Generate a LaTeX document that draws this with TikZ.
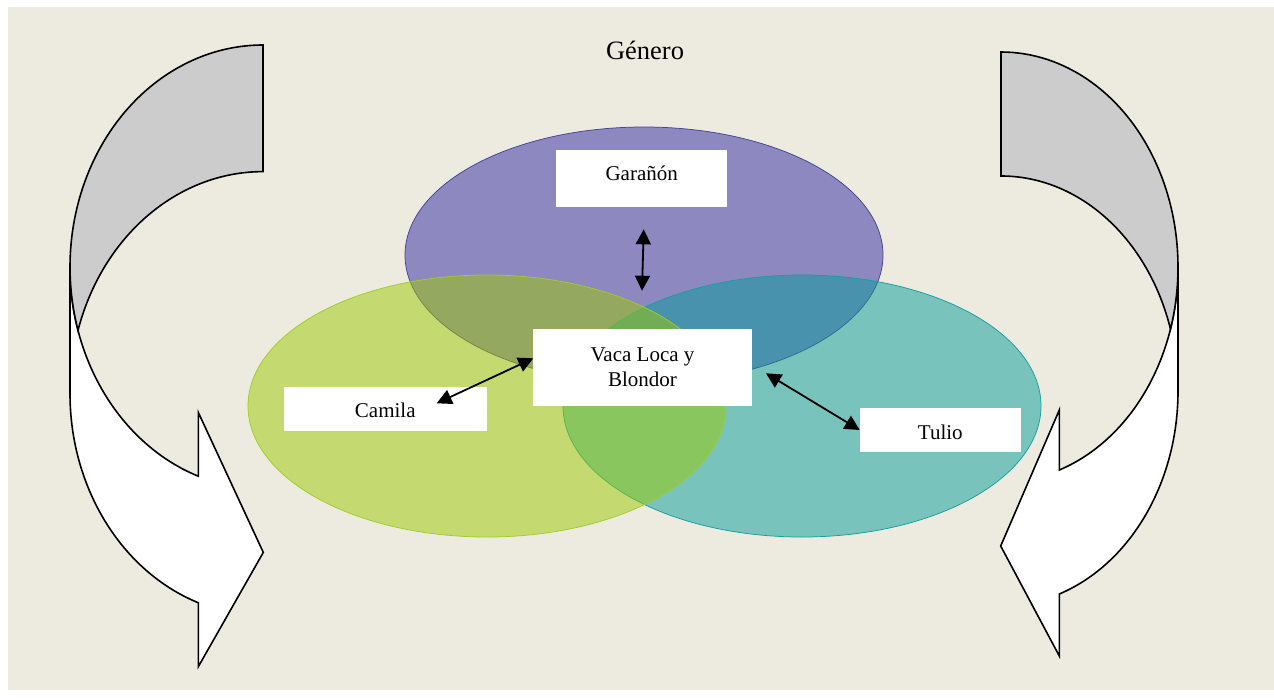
\documentclass[tikz,border=0pt]{standalone}
\usepackage{fontspec}
\setmainfont{Liberation Serif}
\usetikzlibrary{arrows.meta}

\definecolor{paper}{RGB}{237,235,224}
\definecolor{genpurple}{RGB}{46,39,160}
\definecolor{genteal}{RGB}{6,157,156}
\definecolor{gengreen}{RGB}{156,201,0}
\definecolor{edgepurple}{RGB}{70,66,150}
\definecolor{edgeteal}{RGB}{20,160,158}
\definecolor{edgegreen}{RGB}{160,205,40}
\definecolor{backgray}{RGB}{204,204,204}

\tikzset{
    area/.style={fill opacity=0.5, line width=0.75pt},
    band/.style={draw=black, line width=1.6pt, line join=miter},
    labelbox/.style={fill=white, inner sep=0pt, font=\fontsize{21}{25.4}\selectfont},
    bothways/.style={{Triangle[length=15pt,width=15pt]}-{Triangle[length=15pt,width=15pt]}, line width=1.8pt}
}

\begin{document}
\begin{tikzpicture}[x=1pt, y=1pt, yscale=-1]
            \useasboundingbox (0,0) rectangle (1274,697);
            \fill[white] (0,0) rectangle (1274,697);
            \fill[paper] (8,7) rectangle (1274,690);

            \draw[area, fill=genpurple, draw=edgepurple] (644,255) ellipse [x radius=239, y radius=128];
            \draw[area, fill=genteal, draw=edgeteal] (802,406) ellipse [x radius=239, y radius=131];
            \draw[area, fill=gengreen, draw=edgegreen] (487,406) ellipse [x radius=239, y radius=131];

            \draw[band, fill=white] (70,267) -- (70,393.6)
                arc [start angle=180, end angle=109.58, x radius=193, y radius=222]
                -- (198.3,666.7) -- (263.3,552.4) -- (198.3,412.4) -- (198.3,476.2)
                arc [start angle=109.58, end angle=180, x radius=193, y radius=222]
                -- cycle;
            \draw[band, fill=backgray] (263,45)
                arc [start angle=270, end angle=163.43, x radius=193, y radius=222]
                arc [start angle=196.57, end angle=270, x radius=193, y radius=222]
                -- cycle;

            \draw[band, fill=white] (1178,267) -- (1178,391)
                arc [start angle=0, end angle=70.77, x radius=177, y radius=215]
                -- (1059.3,656) -- (1000.7,546) -- (1059.3,410) -- (1059.3,470)
                arc [start angle=70.77, end angle=0, x radius=177, y radius=215]
                -- cycle;
            \draw[band, fill=backgray] (1001,52)
                arc [start angle=270, end angle=376.76, x radius=177, y radius=215]
                arc [start angle=343.24, end angle=270, x radius=177, y radius=215]
                -- cycle;

            \node[font=\fontsize{26.5}{30}\selectfont, anchor=base, inner sep=0pt] (genero) at (645,59.3) {Género};
            \node[labelbox, minimum width=171pt, text height=31.4pt, text depth=25.6pt] (garanon) at (641.7,178) {Garañón};
            \node[labelbox, minimum width=218.4pt, minimum height=76.7pt, align=center] (vaca) at (642.5,367.3) {Vaca Loca y\\Blondor};
            \node[labelbox, minimum width=202.7pt, text height=31pt, text depth=13.3pt] (camila) at (385.3,408.85) {Camila};
            \node[labelbox, minimum width=160.7pt, text height=31pt, text depth=12.4pt] (tulio) at (940.3,430) {Tulio};

            \coordinate (garTop) at (643.7,229.3);
            \coordinate (garBot) at (642,290.7);
            \coordinate (vacaLeft) at (533.3,358.3);
            \coordinate (camTip) at (436.7,403.3);
            \coordinate (vacaRight) at (766,373.3);
            \draw[bothways] (garTop) -- (garBot);
            \draw[bothways] (vacaLeft) -- (camTip);
            \draw[bothways] (vacaRight) -- (tulio.west);
        \end{tikzpicture}
\end{document}
